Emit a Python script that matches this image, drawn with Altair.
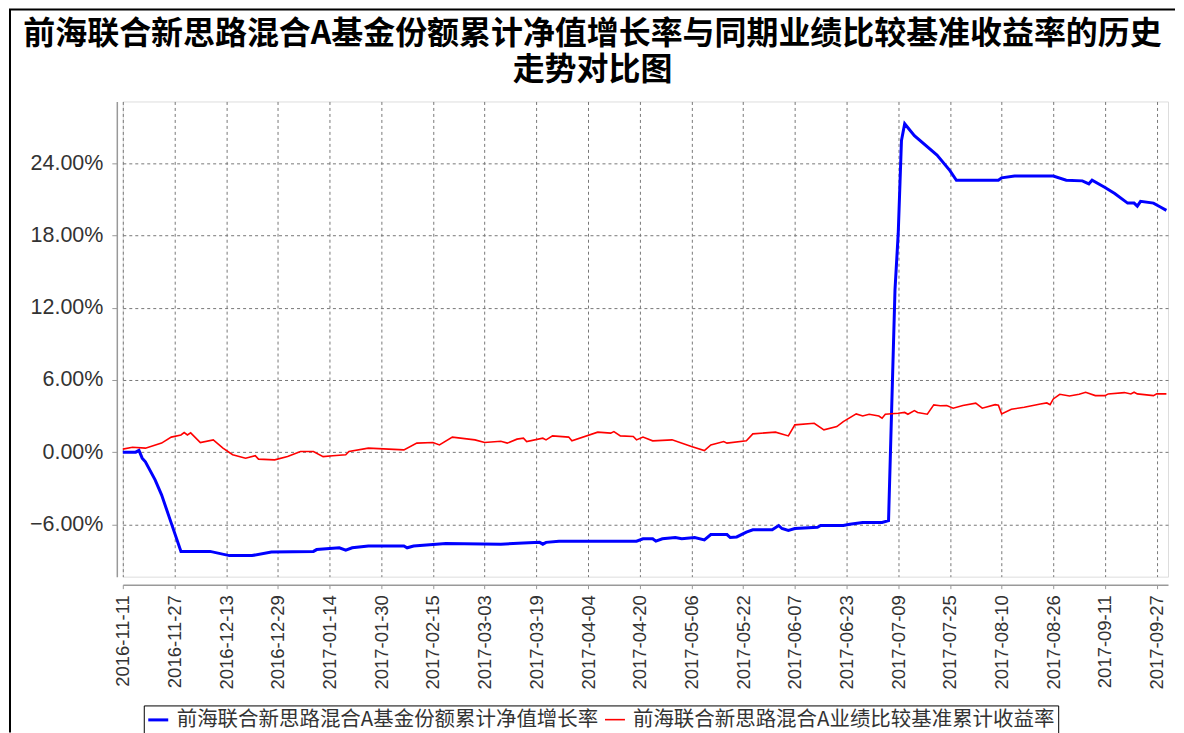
import altair as alt
import pandas as pd

TITLE_LINES = ["前海联合新思路混合A基金份额累计净值增长率与同期业绩比较基准收益率的历史", "走势对比图"]
SERIES_FUND = "前海联合新思路混合A基金份额累计净值增长率"
SERIES_BENCH = "前海联合新思路混合A业绩比较基准累计收益率"

fund_dates = [
    "2016-11-11", "2016-11-15", "2016-11-16", "2016-11-17", "2016-11-18", "2016-11-21",
    "2016-11-23", "2016-11-26", "2016-11-29", "2016-12-08", "2016-12-14", "2016-12-21",
    "2016-12-27", "2017-01-09", "2017-01-10", "2017-01-17", "2017-01-19", "2017-01-21",
    "2017-01-26", "2017-02-06", "2017-02-07", "2017-02-09", "2017-02-19", "2017-03-08",
    "2017-03-15", "2017-03-20", "2017-03-21", "2017-03-22", "2017-03-26", "2017-04-19",
    "2017-04-21", "2017-04-24", "2017-04-25", "2017-04-27", "2017-05-01", "2017-05-03",
    "2017-05-07", "2017-05-10", "2017-05-12", "2017-05-17", "2017-05-18", "2017-05-20",
    "2017-05-23", "2017-05-25", "2017-05-31", "2017-06-02", "2017-06-03", "2017-06-05",
    "2017-06-07", "2017-06-14", "2017-06-15", "2017-06-22", "2017-06-24", "2017-06-28",
    "2017-07-04", "2017-07-06", "2017-07-08", "2017-07-09", "2017-07-10", "2017-07-11",
    "2017-07-14", "2017-07-21", "2017-07-25", "2017-07-27", "2017-08-09", "2017-08-10",
    "2017-08-14", "2017-08-26", "2017-08-30", "2017-09-04", "2017-09-06", "2017-09-07",
    "2017-09-11", "2017-09-14", "2017-09-18", "2017-09-20", "2017-09-21", "2017-09-22",
    "2017-09-26", "2017-09-28", "2017-09-30",
]
fund_values = [
    0.0, 0.0, 0.15, -0.5, -0.8, -2.3,
    -3.55, -5.9, -8.25, -8.25, -8.6, -8.6,
    -8.3, -8.25, -8.1, -7.95, -8.15, -7.95,
    -7.8, -7.8, -7.95, -7.8, -7.6, -7.65,
    -7.55, -7.5, -7.65, -7.5, -7.4, -7.4,
    -7.2, -7.2, -7.4, -7.2, -7.1, -7.2,
    -7.1, -7.3, -6.85, -6.85, -7.1, -7.05,
    -6.65, -6.45, -6.45, -6.1, -6.35, -6.5,
    -6.35, -6.25, -6.1, -6.1, -6.0, -5.85,
    -5.85, -5.7, 13.5, 18.2, 25.9, 27.3,
    26.3, 24.7, 23.4, 22.6, 22.6, 22.8,
    22.95, 22.95, 22.6, 22.55, 22.3, 22.6,
    22.0, 21.5, 20.7, 20.7, 20.45, 20.85,
    20.7, 20.4, 20.1,
]

bench_dates = [
    "2016-11-11", "2016-11-14", "2016-11-18", "2016-11-23", "2016-11-26", "2016-11-29",
    "2016-11-30", "2016-12-01", "2016-12-02", "2016-12-05", "2016-12-09", "2016-12-12",
    "2016-12-15", "2016-12-19", "2016-12-22", "2016-12-23", "2016-12-28", "2017-01-01",
    "2017-01-05", "2017-01-09", "2017-01-12", "2017-01-15", "2017-01-19", "2017-01-20",
    "2017-01-26", "2017-02-06", "2017-02-10", "2017-02-15", "2017-02-17", "2017-02-21",
    "2017-02-28", "2017-03-03", "2017-03-08", "2017-03-10", "2017-03-13", "2017-03-15",
    "2017-03-16", "2017-03-21", "2017-03-22", "2017-03-24", "2017-03-29", "2017-03-30",
    "2017-04-07", "2017-04-11", "2017-04-12", "2017-04-14", "2017-04-18", "2017-04-19",
    "2017-04-21", "2017-04-24", "2017-04-30", "2017-05-06", "2017-05-10", "2017-05-12",
    "2017-05-16", "2017-05-17", "2017-05-23", "2017-05-25", "2017-06-01", "2017-06-05",
    "2017-06-07", "2017-06-13", "2017-06-16", "2017-06-20", "2017-06-22", "2017-06-26",
    "2017-06-28", "2017-06-30", "2017-07-03", "2017-07-04", "2017-07-05", "2017-07-09",
    "2017-07-11", "2017-07-12", "2017-07-14", "2017-07-15", "2017-07-18", "2017-07-20",
    "2017-07-22", "2017-07-24", "2017-07-26", "2017-07-29", "2017-08-02", "2017-08-04",
    "2017-08-08", "2017-08-09", "2017-08-10", "2017-08-13", "2017-08-17", "2017-08-22",
    "2017-08-24", "2017-08-25", "2017-08-26", "2017-08-28", "2017-08-31", "2017-09-03",
    "2017-09-05", "2017-09-08", "2017-09-11", "2017-09-12", "2017-09-17", "2017-09-19",
    "2017-09-20", "2017-09-21", "2017-09-26", "2017-09-27", "2017-09-30",
]
bench_values = [
    0.25, 0.4, 0.33, 0.75, 1.25, 1.43,
    1.63, 1.43, 1.6, 0.8, 1.02, 0.33,
    -0.22, -0.5, -0.3, -0.58, -0.64, -0.37,
    0.05, 0.05, -0.37, -0.3, -0.22, 0.05,
    0.33, 0.19, 0.75, 0.8, 0.6, 1.25,
    1.02, 0.8, 0.9, 0.75, 1.08, 1.16,
    0.88, 1.16, 1.02, 1.35, 1.25, 0.94,
    1.66, 1.58, 1.71, 1.35, 1.3, 1.02,
    1.25, 0.94, 1.02, 0.46, 0.13, 0.6,
    0.88, 0.75, 0.94, 1.52, 1.66, 1.35,
    2.27, 2.4, 1.85, 2.12, 2.54, 3.18,
    3.01, 3.15, 3.0, 2.82, 3.15, 3.23,
    3.3, 3.15, 3.45, 3.3, 3.15, 3.93,
    3.85, 3.87, 3.65, 3.87, 4.07, 3.65,
    3.95, 3.9, 3.18, 3.57, 3.73, 4.0,
    4.09, 3.95, 4.42, 4.81, 4.67, 4.81,
    4.98, 4.7, 4.7, 4.84, 4.95, 4.84,
    4.98, 4.84, 4.7, 4.84, 4.84,
]

x_ticks = [
    "2016-11-11", "2016-11-27", "2016-12-13", "2016-12-29", "2017-01-14", "2017-01-30",
    "2017-02-15", "2017-03-03", "2017-03-19", "2017-04-04", "2017-04-20", "2017-05-06",
    "2017-05-22", "2017-06-07", "2017-06-23", "2017-07-09", "2017-07-25", "2017-08-10",
    "2017-08-26", "2017-09-11", "2017-09-27",
]
y_ticks = [-6, 0, 6, 12, 18, 24]
x_range = ["2016-11-11T00:00:00", "2017-09-30T12:00:00"]
y_range = [-10.35, 29.15]


def to_ms(values):
    return [int(pd.Timestamp(v, tz="UTC").value // 10**6) for v in values]


df = pd.concat([
    pd.DataFrame({"date": fund_dates, "value": fund_values, "series": SERIES_FUND}),
    pd.DataFrame({"date": bench_dates, "value": bench_values, "series": SERIES_BENCH}),
])

W, H = 1047, 476
LABEL_FONT = "Liberation Sans"
CJK_FONT = "Noto Sans CJK SC"
GRID = "#777777"

x_enc = alt.X(
    "date:T",
    scale=alt.Scale(type="utc", domain=to_ms(x_range), nice=False),
    axis=alt.Axis(
        values=to_ms(x_ticks), labelExpr="utcFormat(datum.value, '%Y-%m-%d')",
        labelAngle=270, title=None, offset=8, tickSize=4, labelPadding=6,
        labelFont=LABEL_FONT, labelFontSize=18.5, labelColor="#333333",
        domainColor="#999999", domainWidth=1.5, tickColor="#999999", grid=True,
        gridColor=GRID, gridDash=[3, 3], gridWidth=1, labelOverlap=False,
        labelFlush=False,
    ),
)
y_enc = alt.Y(
    "value:Q",
    scale=alt.Scale(domain=y_range, nice=False, zero=False),
    axis=alt.Axis(
        values=y_ticks, labelExpr="format(datum.value, '.2f') + '%'", title=None,
        offset=6, tickSize=5, labelPadding=9, labelFont=LABEL_FONT, labelFontSize=21.5,
        labelColor="#333333", domainColor="#999999", domainWidth=1.5, tickColor="#999999",
        grid=True, gridColor=GRID, gridDash=[3, 3], gridWidth=1,
    ),
)

lines = alt.Chart(df).mark_line(interpolate="linear").encode(
    x=x_enc,
    y=y_enc,
    color=alt.Color(
        "series:N",
        scale=alt.Scale(domain=[SERIES_FUND, SERIES_BENCH], range=["#0000FF", "#FF0000"]),
        legend=alt.Legend(
            orient="none", legendX=21, legendY=605, direction="horizontal", title=None,
            labelFont=CJK_FONT, labelFontSize=20.5, labelColor="#333333", labelLimit=800,
            symbolType="stroke", symbolSize=400, symbolStrokeWidth=3,
            strokeColor="#000000", fillColor="#ffffff", padding=3, columnPadding=2,
            labelOffset=7,
        ),
    ),
    strokeWidth=alt.StrokeWidth(
        "series:N",
        scale=alt.Scale(domain=[SERIES_FUND, SERIES_BENCH], range=[3, 1.6]),
        legend=None,
    ),
)

frame_data = pd.DataFrame({"k": [0]})
left_border = alt.Chart(frame_data).mark_rule(color="#000000", strokeWidth=2).encode(
    x=alt.value(-113), y=alt.value(-92), y2=alt.value(632)
)
top_border = alt.Chart(frame_data).mark_rule(color="#000000", strokeWidth=2).encode(
    x=alt.value(-114), x2=alt.value(1054), y=alt.value(-92)
)

chart = alt.layer(lines, left_border, top_border).properties(
    width=W,
    height=H,
    padding=0,
    title=alt.TitleParams(
        text=TITLE_LINES, anchor="middle", frame="group", dx=-53, offset=-78,
        font=CJK_FONT, fontSize=32, fontWeight="bold", color="#000000", lineHeight=36,
    ),
).configure_view(stroke="#999999", strokeWidth=1.5).configure(background="#ffffff")

chart.save("out.html", embed_options={"renderer": "svg", "actions": False})
